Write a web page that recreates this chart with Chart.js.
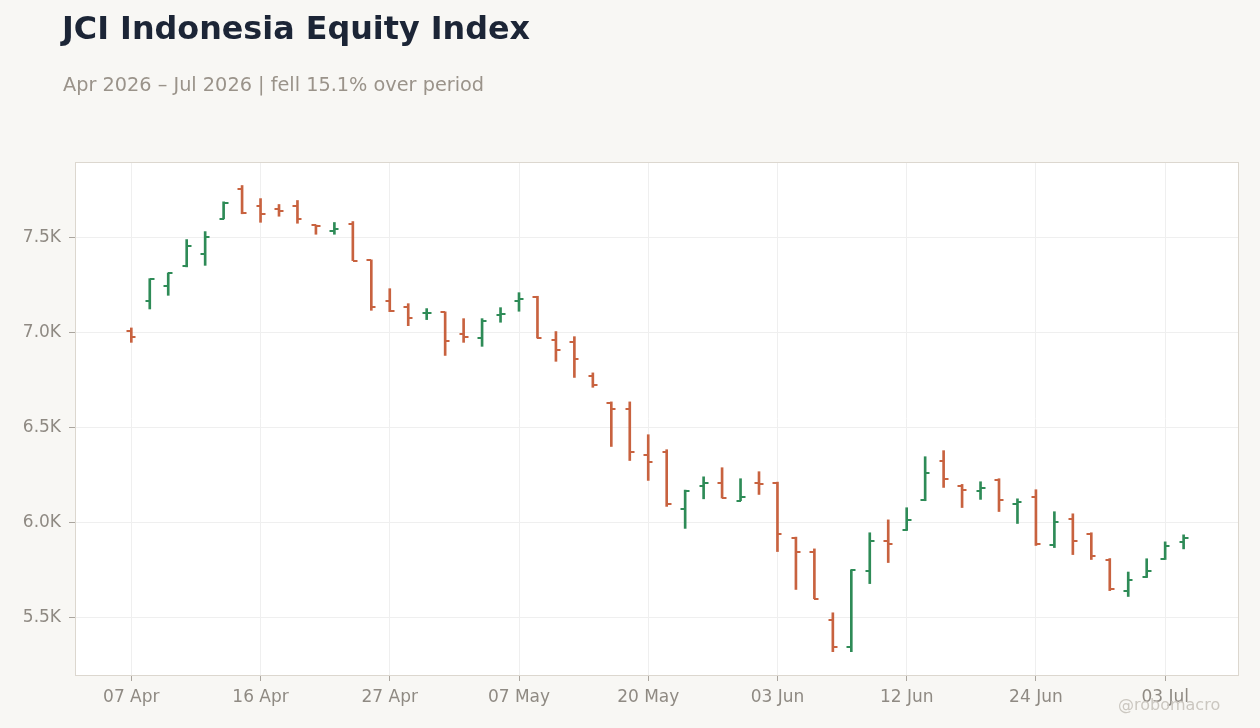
<!DOCTYPE html>
<html>
<head>
<meta charset="utf-8">
<script src="https://cdn.jsdelivr.net/npm/chart.js@4.4.1/dist/chart.umd.min.js"></script>
<style>
  html, body { margin: 0; padding: 0; background: #f8f7f4; width: 1260px; height: 728px; overflow: hidden; font-family: "DejaVu Sans", sans-serif; }
  #title { position: absolute; left: 62px; top: 9px; font-size: 31.8px; font-weight: bold; color: #1c2536; white-space: nowrap; }
  #subtitle { position: absolute; left: 63px; top: 73px; font-size: 19.3px; color: #9a938a; white-space: nowrap; }
  #wrap { position: absolute; left: 0; top: 0; width: 1260px; height: 728px; }
  #wm { position: absolute; left: 1118px; top: 695px; font-size: 16px; color: #cbc7c0; white-space: nowrap; }
</style>
</head>
<body>
<div id="wrap"><canvas id="c"></canvas></div>
<div id="title">JCI Indonesia Equity Index</div>
<div id="subtitle">Apr 2026 – Jul 2026 | fell 15.1% over period</div>
<div id="wm">@robomacro</div>
<script>
const dates = ["07 Apr","08 Apr","09 Apr","10 Apr","13 Apr","14 Apr","15 Apr","16 Apr","17 Apr","20 Apr",
  "21 Apr","22 Apr","23 Apr","24 Apr","27 Apr","28 Apr","29 Apr","30 Apr","04 May","05 May",
  "06 May","07 May","08 May","11 May","12 May","13 May","18 May","19 May","20 May","21 May",
  "22 May","25 May","26 May","29 May","02 Jun","03 Jun","04 Jun","05 Jun","08 Jun","09 Jun",
  "10 Jun","11 Jun","12 Jun","15 Jun","17 Jun","18 Jun","19 Jun","22 Jun","23 Jun","24 Jun",
  "25 Jun","26 Jun","29 Jun","30 Jun","01 Jul","02 Jul","03 Jul","06 Jul"];
const opens  = [7007,7165,7245,7349,7413,7602,7756,7667,7651,7667,7566,7535,7572,7382,7165,7134,7102,7108,6991,6970,
  7092,7165,7187,6963,6949,6770,6631,6599,6353,6369,6068,6189,6205,6115,6210,6210,5920,5845,5487,5343,
  5746,5899,5962,6119,6326,6194,6163,6221,6099,6131,5878,6015,5936,5804,5640,5713,5809,5894];
const highs  = [7025,7285,7315,7491,7533,7690,7776,7707,7676,7697,7568,7581,7586,7384,7232,7153,7127,7110,7074,7074,
  7132,7211,7192,7006,6979,6788,6635,6635,6462,6383,6170,6240,6288,6230,6267,6212,5922,5860,5523,5750,
  5945,6013,6077,6346,6378,6200,6214,6230,6124,6172,6056,6045,5945,5809,5738,5808,5897,5934];
const lows   = [6949,7125,7197,7347,7355,7600,7627,7582,7614,7577,7519,7519,7380,7118,7111,7037,7069,6880,6949,6928,
  7055,7113,6972,6849,6764,6712,6400,6326,6221,6084,5968,6124,6128,6114,6147,5846,5646,5597,5318,5318,
  5677,5788,5957,6114,6184,6078,6121,6057,5994,5878,5867,5830,5804,5640,5609,5709,5804,5860];
const closes = [6975,7282,7313,7459,7503,7683,7630,7625,7639,7598,7562,7545,7380,7134,7112,7076,7106,6958,6978,7060,
  7097,7180,6974,6911,6863,6726,6599,6372,6320,6098,6163,6210,6130,6131,6200,5941,5841,5598,5343,5748,
  5904,5887,6010,6258,6226,6173,6179,6119,6105,5887,6000,5899,5823,5646,5698,5746,5876,5920];
const yTicks = [5500, 6000, 6500, 7000, 7500];
const xTickEvery = 7;

const UP = '#2e8b57', DOWN = '#c8623f';
const colors = closes.map((c, i) => c >= opens[i] ? UP : DOWN);

const bgPlugin = {
  id: 'bg',
  beforeDraw(chart) {
    const {ctx, chartArea: a} = chart;
    ctx.save();
    ctx.fillStyle = '#ffffff';
    ctx.fillRect(a.left, a.top, a.right - a.left, a.bottom - a.top);
    ctx.restore();
  },
  afterDraw(chart) {
    const {ctx, chartArea: a} = chart;
    ctx.save();
    ctx.strokeStyle = '#dcd7cf';
    ctx.lineWidth = 1;
    ctx.strokeRect(a.left + 0.5, a.top + 0.5, a.right - a.left - 1, a.bottom - a.top);
    ctx.restore();
  }
};

const ohlcTicks = {
  id: 'ohlcTicks',
  afterDatasetsDraw(chart) {
    const {ctx, scales: {x, y}} = chart;
    ctx.save();
    ctx.lineWidth = 2;
    ctx.lineCap = 'butt';
    for (let i = 0; i < opens.length; i++) {
      const px = Math.round(x.getPixelForValue(i));
      const yo = Math.round(y.getPixelForValue(opens[i]));
      const yc = Math.round(y.getPixelForValue(closes[i]));
      ctx.strokeStyle = colors[i];
      ctx.beginPath();
      ctx.moveTo(px - 4.5, yo);
      ctx.lineTo(px, yo);
      ctx.moveTo(px, yc);
      ctx.lineTo(px + 4.5, yc);
      ctx.stroke();
    }
    ctx.restore();
  }
};

new Chart(document.getElementById('c'), {
  type: 'bar',
  data: {
    datasets: [{
      data: dates.map((d, i) => ({x: i, y: [lows[i], highs[i]]})),
      backgroundColor: colors,
      borderWidth: 0,
      barThickness: 2,
      grouped: false
    }]
  },
  options: {
    responsive: true,
    maintainAspectRatio: false,
    animation: false,
    layout: { padding: { left: 0, right: 21, top: 162, bottom: 0 } },
    plugins: { legend: { display: false }, tooltip: { enabled: false }, title: { display: false } },
    scales: {
      x: {
        type: 'linear',
        min: -3.05,
        max: 60,
        offset: false,
        afterBuildTicks(s) { s.ticks = dates.map((d, i) => i).filter(i => i % xTickEvery === 0).map(v => ({value: v})); },
        afterFit(s) { s.height = 53; },
        grid: { color: '#efefef', tickColor: '#aaa59e', tickLength: 6, drawOnChartArea: true, offset: false },
        border: { display: false },
        ticks: {
          callback: (v) => dates[v] || '',
          color: '#8f8a83',
          font: { family: 'DejaVu Sans', size: 17 },
          padding: 6,
          maxRotation: 0,
          autoSkip: false
        }
      },
      y: {
        min: 5195,
        max: 7900,
        afterBuildTicks(s) { s.ticks = yTicks.map(v => ({value: v})); },
        afterFit(s) { s.width = 75; },
        grid: { color: '#efefef', tickColor: '#aaa59e', tickLength: 6 },
        border: { display: false },
        ticks: {
          callback: (v) => (v / 1000).toFixed(1) + 'K',
          color: '#8f8a83',
          font: { family: 'DejaVu Sans', size: 17 },
          padding: 8
        }
      }
    }
  },
  plugins: [bgPlugin, ohlcTicks]
});
</script>
</body>
</html>
